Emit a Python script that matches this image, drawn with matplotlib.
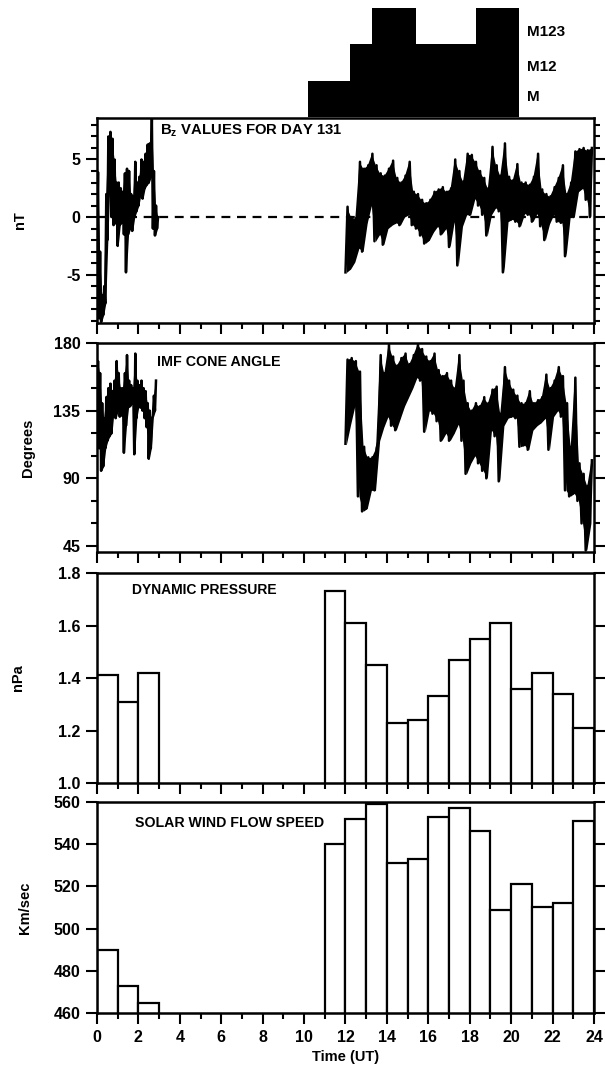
import numpy as np
import matplotlib
matplotlib.use("Agg")
import matplotlib.pyplot as plt
from matplotlib.ticker import MultipleLocator

plt.rcParams['font.family'] = ['Liberation Sans', 'DejaVu Sans']
plt.rcParams['font.weight'] = 'bold'
plt.rcParams['axes.unicode_minus'] = False
plt.rcParams['mathtext.fontset'] = 'custom'
plt.rcParams['mathtext.rm'] = 'Liberation Sans:bold'
plt.rcParams['mathtext.it'] = 'Liberation Sans:bold'
plt.rcParams['mathtext.bf'] = 'Liberation Sans:bold'

# magnetometer indicator steps (hour edges, level 1=M, 2=M12, 3=M123)
ind_edges = [10.2, 12.2, 13.3, 15.4, 18.3, 20.4]
ind_level = [1, 2, 3, 2, 3]
ind_names = ['M', 'M12', 'M123']

# Bz (nT): low/high envelope samples, 0.1 h steps from 0.0 and 0.2 h steps from 12.0
bz_lo1 = [-2.0, -8.8, -9.1, -8.5, -7.5, -2.0, 3.0, 0.0, -0.7, -0.5,
          -2.5, -0.7, -0.5, -1.5, -4.8, -1.5, -1.0, -1.2, 0.0, 0.5,
          1.0, 2.0, 1.6, 2.5, 2.8, 3.0, 3.5, -1.0, -1.6, -1.0]
bz_hi1 = [3.9, -3.0, -6.8, -6.0, 2.0, 7.0, 7.4, 6.8, 5.0, 3.0,
          3.0, 2.5, 2.2, 3.8, 4.2, 4.0, 2.0, 1.8, 4.8, 3.0,
          3.5, 5.0, 4.8, 5.5, 6.3, 6.4, 8.6, 4.0, 1.0, 0.0]
bz_lo2 = [-4.8, -4.5, -3.9, -2.7, -3.0, -0.5, 1.0, -2.1, -1.5, -2.4,
          -1.0, -0.7, -0.5, -0.7, 0.0, 0.2, -0.7, -1.0, -1.6, -2.3,
          -2.0, -1.3, -0.8, -1.5, -1.0, -2.6, -0.4, -4.2, -0.8, 0.2,
          0.2, 1.6, 1.0, 0.2, -1.6, 0.2, 0.8, 0.5, -4.8, -0.4,
          -0.2, -0.4, -0.8, 0.3, 0.2, -0.4, 0.3, -0.8, -2.0, -0.6,
          0.2, -0.4, -0.5, -3.4, 0.0, 0.0, 2.2, 2.5, 1.5, 0.0]
bz_hi2 = [0.9, 0.0, -0.1, 4.8, 4.2, 4.5, 5.5, 4.5, 3.8, 3.6,
          4.2, 4.9, 3.4, 3.0, 3.6, 4.8, 2.2, 2.0, 1.5, 1.2,
          1.5, 2.2, 2.4, 2.6, 2.2, 2.5, 5.0, 4.0, 3.1, 5.5,
          5.4, 4.8, 4.0, 3.4, 2.5, 6.1, 4.5, 3.6, 6.4, 3.5,
          3.2, 4.6, 3.0, 3.0, 2.8, 3.5, 5.5, 2.4, 2.0, 1.8,
          2.6, 3.4, 4.5, 2.0, 3.0, 5.7, 5.9, 6.0, 5.8, 6.0]

# IMF cone angle (degrees): same sampling
cone_lo1 = [113, 110, 95, 98, 110, 115, 118, 120, 135, 130,
            135, 131, 132, 107, 125, 137, 138, 140, 106, 130,
            138, 137, 135, 130, 124, 103, 110, 131, 135]
cone_hi1 = [168, 160, 140, 130, 144, 150, 153, 148, 155, 168,
            160, 150, 150, 160, 172, 155, 152, 150, 173, 155,
            152, 155, 150, 148, 140, 135, 130, 145, 155]
cone_lo2 = [113, 126, 138, 78, 68, 70, 82, 82, 115, 124,
            131, 125, 122, 130, 138, 144, 150, 157, 155, 121,
            135, 133, 128, 115, 120, 115, 120, 126, 115, 93,
            100, 105, 100, 95, 90, 122, 118, 88, 125, 130,
            131, 130, 111, 112, 109, 122, 125, 127, 130, 109,
            131, 135, 131, 82, 78, 80, 75, 60, 42, 60]
cone_hi2 = [169, 170, 168, 161, 111, 104, 104, 110, 172, 160,
            179, 171, 165, 170, 173, 166, 172, 179, 176, 171,
            168, 173, 162, 158, 160, 155, 150, 172, 155, 140,
            135, 140, 138, 144, 140, 149, 151, 133, 164, 155,
            149, 145, 140, 140, 148, 140, 142, 144, 159, 150,
            155, 164, 158, 140, 111, 157, 100, 93, 85, 102]

# hourly averages
hours = [0, 1, 2, 11, 12, 13, 14, 15, 16, 17, 18, 19, 20, 21, 22, 23]
pdyn = [1.41, 1.31, 1.42, 1.73, 1.61, 1.45, 1.23, 1.24, 1.33, 1.47,
        1.55, 1.61, 1.36, 1.42, 1.34, 1.21]
vsw = [490, 473, 464.5, 540, 552, 559, 531, 533, 553, 557,
       546, 509, 521, 510, 512, 551]


def draw_trace(ax, start, step, lo, hi):
    # dense noisy record: envelope band plus a hi/lo zigzag on top
    t = start + step * np.arange(len(lo))
    ax.fill_between(t + step / 4, lo, hi, color='black', lw=0)
    x = np.column_stack([t, t + step / 2]).ravel()
    y = np.column_stack([lo, hi]).ravel()
    ax.plot(x, y, color='black', lw=1.8)


def style(ax, labels=False):
    ax.set_xlim(0, 24)
    ax.xaxis.set_major_locator(MultipleLocator(2))
    ax.xaxis.set_minor_locator(MultipleLocator(1))
    ax.tick_params(which='both', direction='out', width=1.5, right=True,
                   labelsize=11.5, labelbottom=labels, pad=4)
    ax.tick_params(which='major', length=8)
    ax.tick_params(which='minor', length=4.5)
    for s in ax.spines.values():
        s.set_linewidth(1.8)


fig = plt.figure(figsize=(6.05, 10.75), dpi=100)
L, W = 0.1603, 0.8215
ax0 = fig.add_axes([L, 0.8912, W, 0.1014])
ax1 = fig.add_axes([L, 0.6995, W, 0.1907])
ax2 = fig.add_axes([L, 0.4865, W, 0.1944])
ax3 = fig.add_axes([L, 0.2716, W, 0.1953])
ax4 = fig.add_axes([L, 0.0577, W, 0.1963])

# indicator blocks
ax0.stairs(ind_level, ind_edges, fill=True, color='black')
ax0.set_xlim(0, 24)
ax0.set_ylim(0, 3)
ax0.axis('off')
for y, name in zip([0.55, 1.37, 2.33], ind_names):
    ax0.text(20.75, y, name, fontsize=11, fontweight='bold', va='center', ha='left')

# Bz
draw_trace(ax1, 0.0, 0.1, bz_lo1, bz_hi1)
draw_trace(ax1, 12.0, 0.2, bz_lo2, bz_hi2)
ax1.axhline(0, color='black', lw=1.6, ls=(0, (4, 3)))
ax1.set_ylim(-9.2, 8.6)
ax1.yaxis.set_major_locator(MultipleLocator(5))
ax1.yaxis.set_minor_locator(MultipleLocator(1))
style(ax1)
ax1.text(0.127, 0.94, r'B$_{z}$ VALUES FOR DAY 131', transform=ax1.transAxes,
         fontsize=10.7, fontweight='bold', va='center', ha='left')

# cone angle
draw_trace(ax2, 0.0, 0.1, cone_lo1, cone_hi1)
draw_trace(ax2, 12.0, 0.2, cone_lo2, cone_hi2)
ax2.set_ylim(41, 180)
ax2.yaxis.set_major_locator(MultipleLocator(45))
ax2.yaxis.set_minor_locator(MultipleLocator(15))
style(ax2)
ax2.text(0.12, 0.91, 'IMF CONE ANGLE', transform=ax2.transAxes,
         fontsize=10.3, fontweight='bold', va='center', ha='left')

# dynamic pressure
ax3.bar(hours, pdyn, width=1, align='edge', color='white', edgecolor='black', lw=1.6)
ax3.set_ylim(1.0, 1.8)
ax3.yaxis.set_major_locator(MultipleLocator(0.2))
style(ax3)
ax3.text(0.07, 0.92, 'DYNAMIC PRESSURE', transform=ax3.transAxes,
         fontsize=10.0, fontweight='bold', va='center', ha='left')

# flow speed
ax4.bar(hours, vsw, width=1, align='edge', color='white', edgecolor='black', lw=1.6)
ax4.set_ylim(460, 560)
ax4.yaxis.set_major_locator(MultipleLocator(20))
style(ax4, labels=True)
ax4.text(0.077, 0.90, 'SOLAR WIND FLOW SPEED', transform=ax4.transAxes,
         fontsize=10.2, fontweight='bold', va='center', ha='left')
ax4.set_xlabel('Time (UT)', fontsize=10.5, fontweight='bold', labelpad=4)

for ax, lab, xp in [(ax1, 'nT', 20), (ax2, 'Degrees', 28), (ax3, 'nPa', 18), (ax4, 'Km/sec', 25)]:
    pos = ax.get_position()
    fig.text(xp / 605, pos.y0 + pos.height / 2, lab, rotation=90, fontsize=10.5,
             fontweight='bold', ha='center', va='center')

fig.savefig('out.png', dpi=100)
